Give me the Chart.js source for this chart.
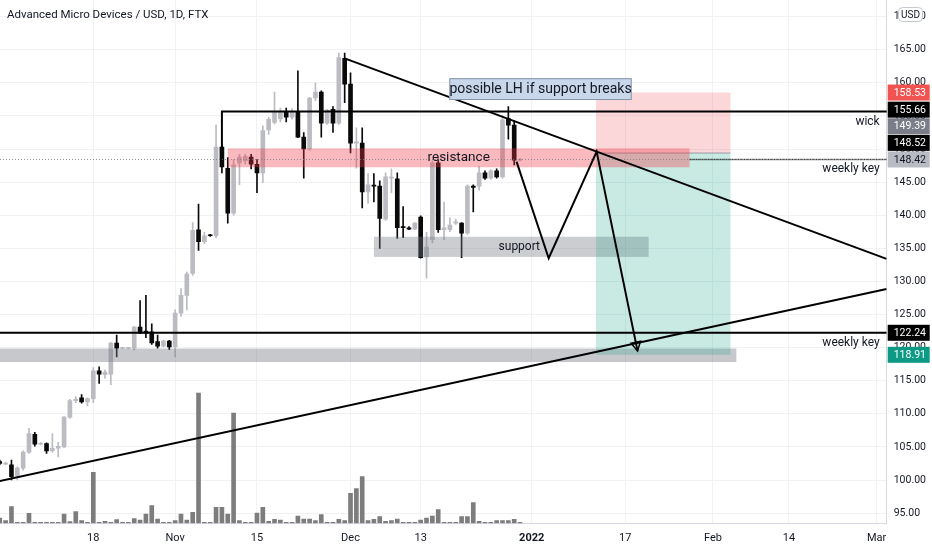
<!DOCTYPE html>
<html>
<head>
<meta charset="utf-8">
<script src="https://cdn.jsdelivr.net/npm/chart.js@4.4.1/dist/chart.umd.min.js"></script>
<style>
  html, body { margin: 0; padding: 0; background: #fff; }
  #wrap { width: 932px; height: 550px; }
</style>
</head>
<body>
<div id="wrap"><canvas id="chart" width="932" height="550"></canvas></div>
<script>
// x values are days counted from 1 Jan 2022 (Oct 2 2021 = -91)
const firstDay = -91;

const opens = [102.8, 102.4, 102.3, 100.6, 101.8, 104.2, 106.9, 105.4, 105.5, 104.4,
  104.8, 105.0, 109.5, 112.0, 112.4, 111.8, 112.3, 116.5, 115.9, 116.0,
  120.7, 119.9, 119.9, 119.9, 123.1, 122.5, 122.4, 120.9, 120.2, 121.0,
  120.1, 125.2, 127.9, 131.2, 137.8, 136.0, 137.0, 136.9, 150.3, 147.1,
  140.3, 147.9, 148.2, 148.8, 147.7, 146.4, 152.9, 154.0, 154.6, 155.7,
  154.8, 155.7, 151.8, 150.0, 157.7, 158.6, 153.9, 156.0, 153.9, 163.7,
  159.8, 150.9, 150.9, 143.5, 144.5, 144.4, 139.4, 145.6, 145.5, 138.3,
  138.1, 137.9, 139.7, 133.7, 136.3, 147.9, 137.8, 137.8, 138.8, 138.8,
  137.3, 144.4, 144.4, 146.4, 145.6, 146.7, 145.8, 154.6, 153.6, 148.3];
const highs = [103.0, 102.7, 103.0, 102.0, 104.4, 107.8, 107.2, 105.7, 105.6, 107.0,
  105.7, 109.6, 112.2, 112.6, 112.9, 112.4, 117.0, 117.1, 116.6, 120.8,
  121.9, 120.0, 120.0, 123.2, 127.1, 127.9, 123.6, 121.9, 121.1, 121.1,
  125.7, 128.9, 131.4, 138.9, 141.7, 137.4, 137.1, 153.6, 150.7, 148.7,
  148.4, 149.2, 149.2, 149.2, 148.4, 153.5, 154.8, 158.6, 156.2, 156.2,
  156.1, 161.8, 152.5, 157.8, 160.0, 158.8, 156.0, 156.4, 164.5, 164.5,
  161.5, 153.2, 153.2, 146.3, 146.3, 145.2, 146.4, 147.0, 146.4, 141.3,
  138.3, 138.9, 139.9, 137.4, 148.2, 148.5, 142.0, 139.6, 139.4, 138.9,
  144.6, 144.6, 147.4, 146.7, 146.9, 147.0, 155.0, 156.4, 154.3, 148.6];
const lows = [102.3, 102.3, 100.0, 100.0, 101.5, 104.0, 105.1, 105.3, 104.0, 104.2,
  103.5, 104.9, 109.3, 111.7, 111.6, 111.2, 111.7, 114.6, 115.4, 114.4,
  118.6, 119.8, 119.8, 119.6, 122.1, 121.5, 120.5, 119.9, 120.1, 119.7,
  118.6, 124.7, 125.7, 130.9, 134.7, 135.7, 136.8, 136.6, 146.4, 138.8,
  140.0, 144.6, 147.7, 147.0, 143.4, 144.9, 152.2, 153.8, 154.1, 154.1,
  154.5, 151.7, 145.6, 149.8, 157.3, 151.8, 153.7, 152.5, 153.7, 157.0,
  149.4, 147.1, 141.1, 141.8, 142.0, 135.0, 139.2, 143.4, 136.5, 136.6,
  137.8, 137.8, 133.5, 130.5, 135.8, 137.4, 136.3, 137.5, 138.6, 133.6,
  137.1, 140.5, 143.8, 145.4, 145.4, 145.6, 145.6, 151.5, 147.6, 148.2];
const closes = [102.5, 102.5, 100.5, 101.8, 104.2, 107.0, 105.4, 105.5, 104.4, 104.8,
  105.1, 109.5, 112.0, 112.2, 111.8, 112.3, 116.5, 116.0, 116.3, 120.7,
  119.9, 120.0, 120.0, 123.1, 122.2, 122.2, 120.7, 120.2, 121.0, 120.1,
  125.2, 127.9, 131.1, 137.7, 136.0, 136.9, 136.9, 150.3, 147.3, 140.3,
  147.6, 148.8, 148.9, 147.7, 146.4, 152.8, 154.5, 155.5, 155.6, 154.8,
  155.7, 151.8, 150.0, 157.7, 158.6, 153.9, 155.9, 153.9, 163.8, 159.8,
  150.9, 151.1, 143.5, 144.6, 144.4, 139.5, 145.8, 145.7, 138.1, 138.1,
  137.9, 138.8, 133.6, 135.2, 147.9, 137.8, 138.1, 138.5, 139.0, 137.3,
  144.4, 144.2, 146.4, 145.6, 146.7, 145.8, 154.4, 153.6, 148.3, 148.42];
const volumes = [5.3, 2.7, 16.7, 1, 1, 10, 1, 1, 1, 1,
  1, 9.3, 1.7, 11.7, 2.7, 1, 51, 1, 2, 1,
  3.7, 1, 1, 4.7, 3.3, 9.3, 17.7, 4.3, 1, 1,
  2.7, 9.3, 3.3, 11, 130.3, 1, 1, 16, 16, 9.3,
  110.3, 2.7, 1, 1, 10.3, 16, 2, 4, 3.3, 1,
  1, 7.3, 4.3, 4.3, 2.7, 8.7, 1, 1, 4, 2.7,
  30, 34.7, 46.7, 2.7, 4, 6.7, 2, 2.7, 4.3, 1,
  1, 1, 3.3, 5.3, 7.3, 13.7, 1, 1, 1, 6.7,
  6.7, 20.7, 2, 1, 1, 2.7, 2.7, 2.7, 4, 1];

const xTickDays = [-75, -61, -47, -31, -19, 0, 16, 31, 44, 59];
const xTickLabels = ['18', 'Nov', '15', 'Dec', '13', '2022', '17', 'Feb', '14', 'Mar'];
const yTickValues = [95, 100, 105, 110, 115, 120, 125, 130, 135, 140, 145, 150, 155, 160, 165, 170];

// drawings: [day, price] points, zones as [dayFrom, dayTo, priceLow, priceHigh]
const trendDown = [[-32, 163.7], [60.7, 133.4]];
const trendUp = [[-91, 99.85], [60.7, 128.85]];
const wickLine = [[-53, 150.3], [-53, 155.66], [61, 155.66]];
const projection = [[-2.6, 148.1], [2.9, 133.5], [11.1, 149.6], [18.1, 119.5]];
const resistanceZone = [-52, 27, 147.24, 150.1];
const supportZone = [-27, 20, 133.7, 136.75];
const weeklyZone = [-95, 35, 117.82, 119.86];
const tradeDays = [11, 34];
const stopPrice = 158.53, entryPrice = 149.39, targetPrice = 118.91;
const weeklyKeyLow = 122.24, weeklyKeyHigh = 148.42, lastPrice = 148.42;
const weeklyKeyHighFrom = 27;
const noteBox = [-14.1, 17.1, 157.4, 160.7];
const noteText = 'possible LH if support breaks';

const tagPrices = [158.53, 155.66, 149.39, 148.52, 148.42, 122.24, 118.91];
const tagFill = ['#f05350', '#000000', '#7b7e88', '#000000', '#b8bbc3', '#000000', '#0c9a84'];
const tagText = ['#ffffff', '#ffffff', '#ffffff', '#ffffff', '#131722', '#ffffff', '#ffffff'];

const upColor = '#babcc2', downColor = '#0a0a0a';
const days = opens.map((_, i) => firstDay + i);
const candleColors = opens.map((o, i) => closes[i] >= o ? upColor : downColor);
const FONT = 'Roboto, "Liberation Sans", sans-serif';

const drawings = {
  id: 'drawings',
  afterDatasetsDraw(chart) {
    const {ctx, chartArea: a, scales: {x, y}} = chart;
    const X = d => x.getPixelForValue(d), Y = p => y.getPixelForValue(p);
    ctx.save();
    ctx.beginPath();
    ctx.rect(a.left, a.top, a.right - a.left, a.bottom - a.top);
    ctx.clip();

    const zone = (z, fill) => {
      ctx.fillStyle = fill;
      ctx.fillRect(X(z[0]), Y(z[3]), X(z[1]) - X(z[0]), Y(z[2]) - Y(z[3]));
    };
    const path = (pts, width, color, dash) => {
      ctx.beginPath();
      pts.forEach((p, i) => i ? ctx.lineTo(X(p[0]), Y(p[1])) : ctx.moveTo(X(p[0]), Y(p[1])));
      ctx.lineWidth = width;
      ctx.strokeStyle = color;
      ctx.setLineDash(dash || []);
      ctx.stroke();
      ctx.setLineDash([]);
    };
    const text = (s, px, py, size, align) => {
      ctx.font = size + 'px ' + FONT;
      ctx.fillStyle = '#131722';
      ctx.textAlign = align;
      ctx.textBaseline = 'middle';
      ctx.fillText(s, px, py);
    };

    zone(weeklyZone, 'rgba(120,123,134,0.42)');
    zone(supportZone, 'rgba(120,123,134,0.38)');
    zone([tradeDays[0], tradeDays[1], entryPrice, stopPrice], 'rgba(242,54,69,0.2)');
    zone([tradeDays[0], tradeDays[1], targetPrice, entryPrice], 'rgba(8,153,129,0.22)');
    path([[tradeDays[0], entryPrice], [tradeDays[1], entryPrice]], 1, 'rgba(120,123,134,0.7)');
    zone(resistanceZone, 'rgba(242,54,69,0.35)');

    path([[x.min, lastPrice], [x.max, lastPrice]], 1, 'rgba(120,123,134,0.8)', [1, 2]);
    path([[weeklyKeyHighFrom, weeklyKeyHigh], [x.max, weeklyKeyHigh]], 1.5, '#000', [1, 1]);
    path([[x.min, weeklyKeyLow], [x.max, weeklyKeyLow]], 2, '#000');
    path(wickLine, 2, '#000');
    path(trendDown, 2, '#000');
    path(trendUp, 2, '#000');
    path(projection, 2, '#000');

    // open arrow head at the end of the projection
    const n = projection.length;
    const tx = X(projection[n - 1][0]), ty = Y(projection[n - 1][1]);
    const ang = Math.atan2(ty - Y(projection[n - 2][1]), tx - X(projection[n - 2][0]));
    ctx.beginPath();
    ctx.moveTo(tx - 10 * Math.cos(ang - 0.5), ty - 10 * Math.sin(ang - 0.5));
    ctx.lineTo(tx, ty);
    ctx.lineTo(tx - 10 * Math.cos(ang + 0.5), ty - 10 * Math.sin(ang + 0.5));
    ctx.closePath();
    ctx.lineWidth = 1.5;
    ctx.strokeStyle = '#000';
    ctx.stroke();

    text('resistance', (X(resistanceZone[0]) + X(resistanceZone[1])) / 2, (Y(resistanceZone[2]) + Y(resistanceZone[3])) / 2, 13.5, 'center');
    text('support', (X(supportZone[0]) + X(supportZone[1])) / 2 + 8, (Y(supportZone[2]) + Y(supportZone[3])) / 2, 12, 'center');
    text('wick', a.right - 7, Y(wickLine[2][1]) + 10, 12, 'right');
    text('weekly key', a.right - 7, Y(weeklyKeyHigh) + 10, 12, 'right');
    text('weekly key', a.right - 7, Y(weeklyKeyLow) + 10, 12, 'right');

    // note box
    const bx = X(noteBox[0]), by = Y(noteBox[3]), bw = X(noteBox[1]) - bx, bh = Y(noteBox[2]) - by;
    ctx.fillStyle = '#c9d7ea';
    ctx.fillRect(bx, by, bw, bh);
    ctx.lineWidth = 1;
    ctx.strokeStyle = '#8593ab';
    ctx.strokeRect(bx + 0.5, by + 0.5, bw - 1, bh - 1);
    text(noteText, bx + bw / 2, by + bh / 2 + 0.5, 14, 'center');
    ctx.restore();
  },
  afterDraw(chart) {
    const {ctx, chartArea: a, scales: {y}} = chart;
    ctx.save();
    // price tags on the right axis, pushed apart like the platform does
    const order = tagPrices.map((p, i) => i).sort((i, j) => tagPrices[i] - tagPrices[j]);
    let prev = Infinity;
    ctx.font = '10.5px ' + FONT;
    ctx.textBaseline = 'middle';
    ctx.textAlign = 'left';
    order.forEach(i => {
      const cy = Math.min(y.getPixelForValue(tagPrices[i]), prev - 16.6);
      prev = cy;
      ctx.fillStyle = tagFill[i];
      ctx.fillRect(a.right + 1, cy - 8, 42, 16);
      ctx.fillStyle = tagText[i];
      ctx.fillText(tagPrices[i].toFixed(2), a.right + 7, cy + 0.5);
    });
    // currency badge over the top tick
    ctx.fillStyle = '#fff';
    ctx.strokeStyle = '#c5c8d0';
    ctx.lineWidth = 1;
    ctx.beginPath();
    ctx.roundRect(898.5, 7.5, 24, 14, 4);
    ctx.fill();
    ctx.stroke();
    ctx.fillStyle = '#131722';
    ctx.font = '10px ' + FONT;
    ctx.fillText('USD', 901, 15);
    // title
    ctx.font = '11.5px ' + FONT;
    ctx.fillText('Advanced Micro Devices / USD, 1D, FTX', 7, 15.5);
    ctx.restore();
  }
};

new Chart(document.getElementById('chart'), {
  type: 'bar',
  data: {
    datasets: [
      {
        label: 'Volume',
        yAxisID: 'yv',
        data: days.map((d, i) => ({x: d, y: volumes[i]})),
        backgroundColor: '#7d7d7d',
        barThickness: 4,
        grouped: false,
        order: 3
      },
      {
        label: 'Wicks',
        data: days.map((d, i) => ({x: d, y: [lows[i], highs[i]]})),
        backgroundColor: candleColors,
        barThickness: 1,
        grouped: false,
        order: 2
      },
      {
        label: 'Bodies',
        data: days.map((d, i) => ({x: d, y: [opens[i], closes[i]]})),
        backgroundColor: candleColors,
        barThickness: 4,
        minBarLength: 1,
        grouped: false,
        order: 1
      }
    ]
  },
  options: {
    responsive: false,
    animation: false,
    layout: { padding: 0 },
    plugins: { legend: { display: false }, tooltip: { enabled: false } },
    scales: {
      x: {
        type: 'linear',
        min: -90.96,
        max: 60.72,
        offset: false,
        grid: { color: '#f0f2f6', drawTicks: false, offset: false },
        border: { color: '#d6d9e0' },
        ticks: {
          autoSkip: false,
          maxRotation: 0,
          padding: 8,
          color: '#131722',
          font: c => ({ family: FONT, size: 11, weight: c.tick && c.tick.value === 0 ? 'bold' : 'normal' }),
          callback: (v, i) => xTickLabels[i]
        },
        afterBuildTicks: s => { s.ticks = xTickDays.map(v => ({value: v})); },
        afterFit: s => { s.height = 26.7; s.paddingLeft = 0; s.paddingRight = 0; }
      },
      y: {
        position: 'right',
        min: 93.46,
        max: 172.51,
        grid: { color: '#f0f2f6', drawTicks: false },
        border: { color: '#d6d9e0' },
        ticks: {
          padding: 7,
          color: '#131722',
          font: { family: FONT, size: 10.5 },
          callback: v => v.toFixed(2)
        },
        afterBuildTicks: s => { s.ticks = yTickValues.map(v => ({value: v})); },
        afterFit: s => { s.width = 45.3; s.paddingTop = 0; s.paddingBottom = 0; }
      },
      yv: {
        display: false,
        min: 0,
        max: 523.3
      }
    }
  },
  plugins: [drawings]
});
</script>
</body>
</html>
